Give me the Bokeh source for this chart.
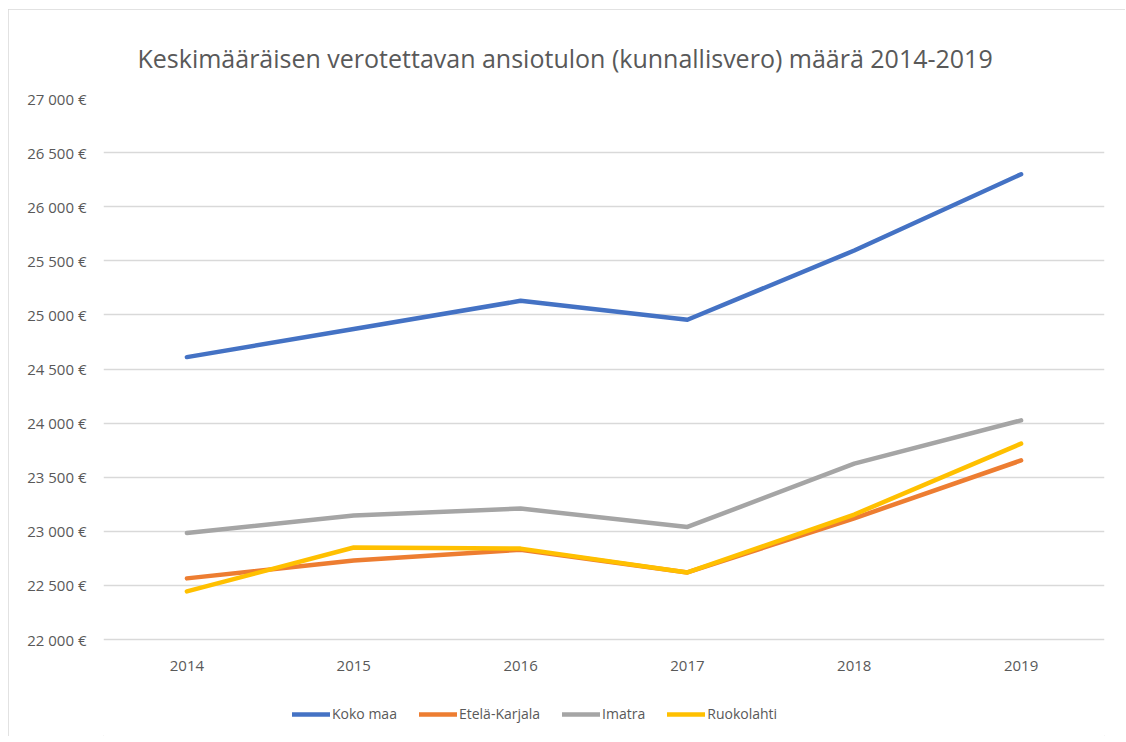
from bokeh.plotting import figure
from bokeh.models import ColumnDataSource, Legend, LegendItem, FixedTicker, Title
from bokeh.embed import file_html
from bokeh.resources import INLINE

years = ["2014", "2015", "2016", "2017", "2018", "2019"]
koko_maa = [24610, 24870, 25130, 24955, 25595, 26300]
etela_karjala = [22565, 22730, 22830, 22620, 23120, 23655]
imatra = [22985, 23145, 23210, 23040, 23625, 24025]
ruokolahti = [22445, 22850, 22840, 22620, 23155, 23810]
series_names = ["Koko maa", "Etelä-Karjala", "Imatra", "Ruokolahti"]
series_values = [koko_maa, etela_karjala, imatra, ruokolahti]
colors = ["#4472C4", "#ED7D31", "#A5A5A5", "#FFC000"]
y_ticks = [22000, 22500, 23000, 23500, 24000, 24500, 25000, 25500, 26000, 26500, 27000]
y_tick_labels = ["22 000 €", "22 500 €", "23 000 €", "23 500 €", "24 000 €", "24 500 €",
                 "25 000 €", "25 500 €", "26 000 €", "26 500 €", "27 000 €"]
y_axis_min = 22000
y_axis_max = 27000

FONT = "Open Sans"
TXT = "#595959"

# frame extends below the lowest gridline to leave room for the legend inside it
FRAME_H = 638
PLOT_H = 541
y_start = y_axis_max - (y_axis_max - y_axis_min) * FRAME_H / PLOT_H

p = figure(frame_width=1001, frame_height=FRAME_H, x_range=years, y_range=(y_start, y_axis_max),
           x_axis_location="above",
           output_backend="svg", toolbar_location=None,
           min_border_left=95, min_border_right=21, min_border_top=89, min_border_bottom=0)
p.title = None
t = Title(text="Keskimääräisen verotettavan ansiotulon (kunnallisvero) määrä 2014-2019",
          align="left", offset=34, text_font=FONT, text_font_size="25px",
          text_font_style="normal", text_color=TXT, standoff=48)
p.add_layout(t, "above")

p.outline_line_color = None
p.background_fill_color = "white"
p.border_fill_color = "white"
p.styles = {"outline": "1px solid #d9d9d9", "outline-offset": "-1px",
            "margin-left": "8px", "margin-top": "9px"}

p.xgrid.grid_line_color = None
p.ygrid.grid_line_color = "#d9d9d9"
p.ygrid.grid_line_width = 1.5
p.yaxis.ticker = FixedTicker(ticks=y_ticks)
p.yaxis.major_label_overrides = {t_: l_ for t_, l_ in zip(y_ticks, y_tick_labels)}

for ax in (p.xaxis, p.yaxis):
    ax.axis_line_color = None
    ax.major_tick_line_color = None
    ax.minor_tick_line_color = None
    ax.major_label_text_font = FONT
    ax.major_label_text_font_size = "15px"
    ax.major_label_text_color = TXT
p.yaxis.major_label_standoff = 11
p.xaxis.fixed_location = y_axis_min
p.xaxis.major_label_standoff = -37

items = []
for name, vals, col in zip(series_names, series_values, colors):
    src = ColumnDataSource(dict(x=years, y=vals))
    r = p.line("x", "y", source=src, line_color=col, line_width=4.5,
               line_cap="round", line_join="round")
    items.append(LegendItem(label=name, renderers=[r]))

legend = Legend(items=items, orientation="horizontal", location=(189, 13),
                label_text_font=FONT, label_text_font_size="14px", label_text_color=TXT,
                glyph_width=38, glyph_height=14, label_standoff=2, spacing=22,
                border_line_color=None, background_fill_alpha=0, margin=0, padding=0)
p.add_layout(legend, "center")

open("out.html", "w").write(file_html(p, INLINE))
